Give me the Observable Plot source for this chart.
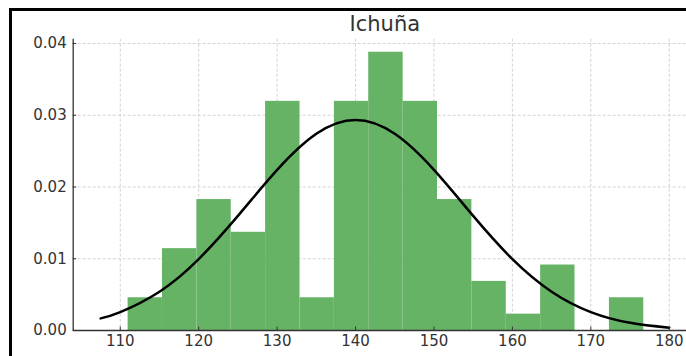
<!DOCTYPE html>
<html>
<head>
<meta charset="utf-8">
<script src="https://cdn.jsdelivr.net/npm/d3@7"></script>
<script src="https://cdn.jsdelivr.net/npm/@observablehq/plot@0.6"></script>
<style>
  html, body { margin: 0; padding: 0; background: #fff; overflow: hidden; }
  #wrap { position: relative; width: 686px; height: 356px; overflow: hidden; }
  #border { position: absolute; left: 9px; top: 8px; width: 900px; height: 600px;
            border-left: 3px solid #000; border-top: 3px solid #000; }
  #title { position: absolute; left: 72.7px; top: 0; width: 624.3px; height: 30px; box-sizing: border-box;
           padding-top: 14px; line-height: 21px; text-align: center;
           font-family: "DejaVu Sans", sans-serif; font-size: 21px; color: #333; }
  #chart { position: absolute; left: 0; top: 30px; width: 697px; }
  #chart svg { max-width: none !important; }
</style>
</head>
<body>
<div id="wrap">
  <div id="border"></div>
  <div id="title">Ichuña</div>
  <div id="chart"></div>
</div>
<script>
// Histogram of 100 observations (15 equal-width bins) with a fitted normal density
const binEdges = [111.0, 115.38, 119.77, 124.15, 128.53, 132.92, 137.3, 141.68,
                  146.07, 150.45, 154.83, 159.22, 163.6, 167.98, 172.37, 176.75];
const counts = [2, 5, 8, 6, 14, 2, 14, 17, 14, 8, 3, 1, 4, 0, 2];

// Fitted normal curve, sampled
const curveX = [107.5, 110, 115, 120, 125, 130, 135, 140, 145, 150, 155, 160, 165, 170, 175, 180];
const curveY = [0.00169, 0.00257, 0.00541, 0.00995, 0.01597, 0.02238, 0.02741, 0.02933,
                0.02741, 0.02238, 0.01597, 0.00995, 0.00541, 0.00257, 0.00107, 0.00039];

const xTicks = [110, 120, 130, 140, 150, 160, 170, 180];
const yTicks = [0, 0.01, 0.02, 0.03, 0.04];
const xDomain = [104.0, 183.6];
const yDomain = [0, 0.0406];

const total = d3.sum(counts);
const binWidth = (binEdges[binEdges.length - 1] - binEdges[0]) / counts.length;
const bins = counts
  .map((c, i) => ({x1: binEdges[i], x2: binEdges[i + 1], density: c / (total * binWidth)}))
  .filter(d => d.density > 0);
const curve = curveX.map((x, i) => ({x, y: curveY[i]}));

const W = 697, H = 326;
const mL = 72.7, mR = 0, mT = 8.7, mB = 26;
const plotW = W - mL - mR, plotH = H - mT - mB;

const gridStyle = {stroke: "#c8c8c8", strokeWidth: 0.8, strokeDasharray: "3,2"};
const axisColor = "#333";

const chart = Plot.plot({
  width: W,
  height: H,
  marginLeft: mL,
  marginRight: mR,
  marginTop: mT,
  marginBottom: mB,
  style: {fontFamily: "DejaVu Sans, sans-serif", fontSize: "15px", color: "#333", background: "transparent", maxWidth: "none"},
  x: {domain: xDomain},
  y: {domain: yDomain},
  marks: [
    Plot.ruleX(xTicks, gridStyle),
    Plot.ruleY(yTicks.slice(1), gridStyle),
    Plot.rectY(bins, {x1: "x1", x2: "x2", y: "density", fill: "#66b366", inset: 0}),
    Plot.line(curve, {x: "x", y: "y", stroke: "#000", strokeWidth: 2.5, curve: "natural"}),
    // inward tick marks
    Plot.tickY(yTicks, {stroke: axisColor, strokeWidth: 1, insetRight: plotW - 3.5}),
    Plot.tickX(xTicks, {stroke: axisColor, strokeWidth: 1, insetTop: plotH - 3.5}),
    // spines
    Plot.ruleY([0], {stroke: axisColor, strokeWidth: 1.3}),
    Plot.ruleX([xDomain[0]], {stroke: axisColor, strokeWidth: 1.3}),
    Plot.axisX(xTicks, {tickSize: 0, tickPadding: 5, label: null}),
    Plot.axisY(yTicks, {tickSize: 0, tickPadding: 6.5, label: null, tickFormat: d3.format(".2f")})
  ]
});
document.getElementById("chart").appendChild(chart);
</script>
</body>
</html>
